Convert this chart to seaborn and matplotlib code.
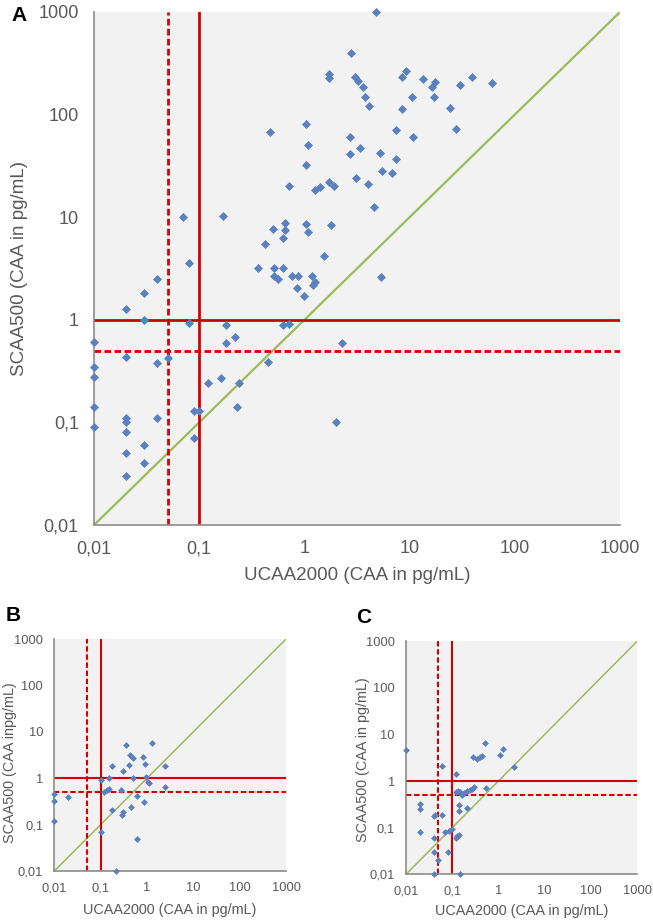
import matplotlib

matplotlib.use("Agg")

import matplotlib.pyplot as plt
import pandas as pd
import seaborn as sns

# Panel A: UCAA2000 vs SCAA500 (pg/mL)
a_ucaa = [0.01, 0.01, 0.01, 0.01, 0.01,
          0.02, 0.02, 0.02, 0.02, 0.02, 0.02, 0.02,
          0.03, 0.03, 0.03, 0.03, 0.04, 0.04, 0.04, 0.05, 0.07, 0.08, 0.08,
          0.09, 0.09, 0.1, 0.12, 0.16, 0.17, 0.18, 0.18, 0.22, 0.23, 0.24,
          0.36, 0.42, 0.45, 0.47, 0.5, 0.51, 0.51, 0.56, 0.62, 0.63, 0.63,
          0.65, 0.65, 0.72, 0.72, 0.76, 0.85, 0.87, 1.0, 1.04, 1.04, 1.04,
          1.07, 1.07, 1.17, 1.2, 1.26, 1.26, 1.4, 1.55, 1.7, 1.7, 1.7, 1.8,
          1.9, 2.0, 2.3, 2.7, 2.7, 2.8, 3.0, 3.1, 3.2, 3.4, 3.6, 3.8, 4.0,
          4.1, 4.6, 4.8, 5.2, 5.4, 5.5, 6.8, 7.4, 7.4, 8.5, 8.5, 9.2, 10.5,
          10.8, 13.3, 16.2, 17.2, 17.4, 24, 27.6, 30, 39, 61]
a_scaa = [0.61, 0.35, 0.28, 0.14, 0.09,
          1.27, 0.43, 0.11, 0.10, 0.08, 0.05, 0.03,
          1.84, 1.0, 0.06, 0.04, 2.5, 0.38, 0.11, 0.42, 10.1, 3.6, 0.94,
          0.13, 0.07, 0.13, 0.24, 0.27, 10.3, 0.88, 0.6, 0.68, 0.14, 0.24,
          3.2, 5.5, 0.39, 67, 7.6, 3.2, 2.7, 2.5, 0.89, 6.3, 3.2,
          8.8, 7.5, 20, 0.9, 2.7, 2.06, 2.7, 1.7, 81, 32, 8.6,
          51, 7.1, 2.7, 2.2, 18.4, 2.35, 19.8, 4.2, 250, 225, 22, 8.4,
          20, 0.1, 0.6, 60, 41, 400, 230, 24, 212, 47, 185, 150, 21,
          120, 12.5, 1000, 42, 2.6, 28, 27, 71, 37, 230, 113, 265, 147,
          61, 222, 185, 149, 208, 115, 72, 194, 234, 202]

# Panel B
b_ucaa = [0.35, 1.27, 0.43, 0.49, 0.81, 0.18, 0.4, 0.91, 2.4, 0.31, 0.49,
          0.15, 0.1, 0.96, 1.07, 1.13, 0.15, 0.12, 0.14, 0.28, 2.4, 0.01,
          0.01, 0.02, 0.62, 0.88, 0.45, 0.18, 0.3, 0.29, 0.01, 0.1, 0.62,
          0.21]
b_scaa = [5.2, 5.8, 3.2, 2.7, 2.9, 1.8, 1.9, 2.0, 1.86, 1.4, 1.0,
          1.0, 0.91, 1.08, 0.84, 0.78, 0.6, 0.51, 0.56, 0.56, 0.66, 0.46,
          0.33, 0.40, 0.41, 0.30, 0.24, 0.21, 0.19, 0.16, 0.12, 0.07, 0.05,
          0.01]

# Panel C
c_ucaa = [0.01, 0.51, 0.28, 0.34, 0.4, 0.43, 1.26, 1.1, 2.15, 0.06, 0.12,
          0.55, 0.12, 0.135, 0.15, 0.16, 0.18, 0.21, 0.24, 0.27, 0.3,
          0.02, 0.02, 0.14, 0.14, 0.21, 0.04, 0.042, 0.06, 0.02, 0.07,
          0.086, 0.097, 0.14, 0.13, 0.12, 0.04, 0.04, 0.08, 0.05, 0.04, 0.15]
c_scaa = [4.6, 6.4, 3.2, 3.0, 3.2, 3.5, 4.9, 3.7, 2.0, 2.1, 1.4,
          0.72, 0.57, 0.6, 0.58, 0.5, 0.55, 0.6, 0.63, 0.66, 0.74,
          0.32, 0.25, 0.31, 0.23, 0.27, 0.18, 0.19, 0.19, 0.08, 0.08,
          0.087, 0.093, 0.07, 0.065, 0.06, 0.06, 0.03, 0.03, 0.02, 0.01, 0.01]

ticks = [0.01, 0.1, 1, 10, 100, 1000]
tick_labels = ["0,01", "0,1", "1", "10", "100", "1000"]
cutoff_solid = 1.0
cutoff_dashed = 0.5
cutoff_x_solid = 0.1
cutoff_x_dashed = 0.05

BLUE = "#5a80c0"
RED = "#d40000"
GREEN = "#9bbb59"
GREY = "#595959"

sns.set_theme(style="white")
plt.rcParams["font.family"] = ["Liberation Sans", "DejaVu Sans"]


def draw_panel(ax, x, y, ylabel, big, xlabel_y, ylabel_x, ylabel_y):
    lw_red = 2.0 if big else 1.5
    lw_green = 1.6 if big else 1.1
    fs_tick = 13 if big else 9.3
    fs_label = 13.5 if big else 10.4
    marker_s = 21 if big else 12
    dash = (0, (2.4, 1.2)) if big else (0, (2.6, 1.3))

    ax.set_facecolor("#f2f2f2")
    ax.set_xscale("log")
    ax.set_yscale("log")
    ax.set_xlim(ticks[0], ticks[-1])
    ax.set_ylim(ticks[0], ticks[-1])

    ax.plot([ticks[0], ticks[-1]], [ticks[0], ticks[-1]], color=GREEN, lw=lw_green, zorder=1)
    ax.axvline(cutoff_x_dashed, color=RED, lw=lw_red, ls=dash, zorder=2)
    ax.axvline(cutoff_x_solid, color=RED, lw=lw_red, zorder=2)
    ax.axhline(cutoff_dashed, color=RED, lw=lw_red, ls=dash, zorder=2)
    ax.axhline(cutoff_solid, color=RED, lw=lw_red, zorder=2)

    df = pd.DataFrame({"ucaa": x, "scaa": y})
    sns.scatterplot(data=df, x="ucaa", y="scaa", marker="D", s=marker_s, color=BLUE,
                    linewidth=0, ax=ax, zorder=3, clip_on=False)

    ax.set_xticks(ticks)
    ax.set_xticklabels(tick_labels)
    ax.set_yticks(ticks)
    ax.set_yticklabels(tick_labels)
    ax.minorticks_off()
    ax.tick_params(length=0, labelsize=fs_tick, labelcolor=GREY, pad=11 if big else 8)
    ax.set_xlabel("UCAA2000 (CAA in pg/mL)", fontsize=fs_label, color=GREY, va="center")
    ax.set_ylabel(ylabel, fontsize=fs_label, color=GREY, va="center")
    ax.xaxis.set_label_coords(0.5, xlabel_y)
    ax.yaxis.set_label_coords(ylabel_x, ylabel_y)
    for side in ["top", "right"]:
        ax.spines[side].set_visible(False)
    for side in ["left", "bottom"]:
        ax.spines[side].set_color("#8c8c8c")
        ax.spines[side].set_linewidth(1.2)


fig = plt.figure(figsize=(6.53, 9.22), dpi=100)
ax_a = fig.add_axes([0.144, 0.4306, 0.8055, 0.5564])
ax_b = fig.add_axes([0.0832, 0.0553, 0.3548, 0.2516])
ax_c = fig.add_axes([0.6217, 0.0517, 0.3542, 0.2530])

draw_panel(ax_a, a_ucaa, a_scaa, "SCAA500 (CAA in pg/mL)", True, -0.099, -0.141, 0.5)
draw_panel(ax_b, b_ucaa, b_scaa, "SCAA500 (CAA inpg/mL)", False, -0.168, -0.191, 0.466)
draw_panel(ax_c, c_ucaa, c_scaa, "SCAA500 (CAA in pg/mL)", False, -0.157, -0.186, 0.49)

fig.text(0.018, 0.994, "A", fontsize=15, fontweight="bold", va="top", color="black")
fig.text(0.008, 0.343, "B", fontsize=15, fontweight="bold", va="top", color="black")
fig.text(0.546, 0.341, "C", fontsize=15, fontweight="bold", va="top", color="black")

fig.savefig("out.png", dpi=100)
plt.close(fig)
